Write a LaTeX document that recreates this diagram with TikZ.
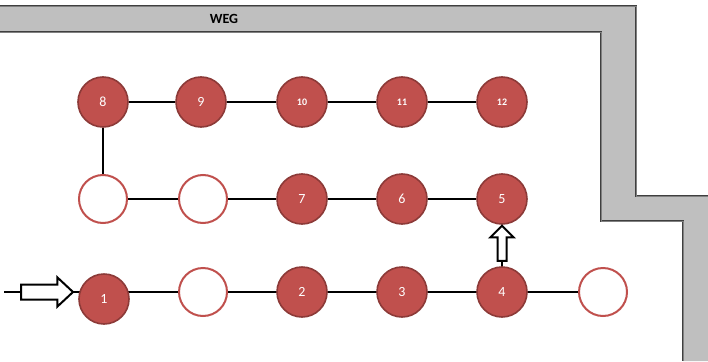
\documentclass[tikz,border=0pt]{standalone}
\usepackage{fontspec}
\setmainfont{Carlito}
\usetikzlibrary{shapes.arrows,backgrounds}
\definecolor{spot}{HTML}{C0504D}
\definecolor{spotdark}{HTML}{8C3A38}
\definecolor{wallgray}{HTML}{BFBFBF}
\definecolor{walledge}{HTML}{3F3F3F}
\tikzset{
  full/.style={circle, minimum size=50pt, inner sep=0pt, fill=spot, draw=spotdark,
    line width=1.6pt, text=white, font=\fontsize{14}{14}\selectfont},
  fullsmall/.style={full, font=\bfseries\fontsize{10}{10}\selectfont},
  empty/.style={circle, minimum size=48pt, inner sep=0pt, fill=white, draw=spot, line width=2pt},
  link/.style={line width=2.8pt, black},
  wall/.style={line width=0.5pt, walledge, double=gray, double distance=0.6pt},
  blockarrow/.style={single arrow, draw=black, fill=white, line width=2pt,
    single arrow head indent=0pt, inner xsep=0pt}
}
\begin{document}
\begin{tikzpicture}[x=1pt, y=-1pt]
  \useasboundingbox (0,0) rectangle (708,361);
  % corridor wall
  \fill[wallgray] (0,6) -- (636,6) -- (636,196) -- (708,196) -- (708,361)
    -- (683,361) -- (683,221) -- (601,221) -- (601,32) -- (0,32) -- cycle;
  \draw[wall] (0,6) -- (636,6) -- (636,196) -- (708,196);
  \draw[wall] (0,32) -- (601,32) -- (601,221) -- (683,221) -- (683,361);
  \node[font=\bfseries\fontsize{14}{14}\selectfont] (weg) at (224,19) {WEG};

  % top row
  \node[full]      (n8)  at (103,102) {8};
  \node[full]      (n9)  at (201,102) {9};
  \node[fullsmall] (n10) at (302,102) {10};
  \node[fullsmall] (n11) at (402,102) {11};
  \node[fullsmall] (n12) at (502,102) {12};
  % middle row
  \node[empty]     (e1)  at (103,199) {};
  \node[empty]     (e2)  at (203,199) {};
  \node[full]      (n7)  at (302,199) {7};
  \node[full]      (n6)  at (402,199) {6};
  \node[full]      (n5)  at (502,199) {5};
  % bottom row
  \node[full]      (n1)  at (104,299) {1};
  \node[empty]     (e3)  at (203,292) {};
  \node[full]      (n2)  at (302,292) {2};
  \node[full]      (n3)  at (402,292) {3};
  \node[full]      (n4)  at (502,292) {4};
  \node[empty]     (e4)  at (603,292) {};

  % entry arrow and step arrow
  \coordinate (start) at (4,292);
  \node[blockarrow, minimum height=52pt, minimum width=28pt, inner ysep=6.5pt,
        single arrow tip angle=86] (entry) at (43,292) {};
  \node[blockarrow, minimum height=35pt, minimum width=16pt, inner ysep=3.5pt,
        single arrow tip angle=90, rotate=90] (up) at (502,245.5) {};

  \begin{scope}[on background layer]
    \draw[link] (n8) -- (n9) -- (n10) -- (n11) -- (n12);
    \draw[link] (n8) -- (e1);
    \draw[link] (e1) -- (e2) -- (n7) -- (n6) -- (n5);
    \draw[link] (start) -- (e4.center);
    \draw[link] (n4.center) -- (up.tail);
  \end{scope}
\end{tikzpicture}
\end{document}
